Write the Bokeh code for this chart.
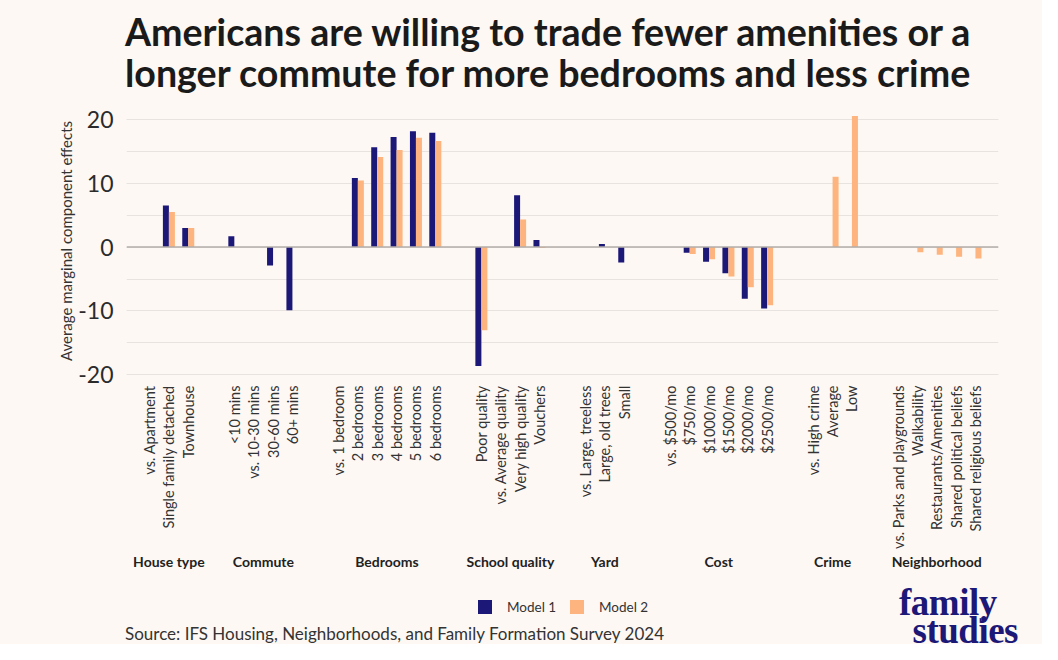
import math
from bokeh.plotting import figure
from bokeh.layouts import column
from bokeh.models import (ColumnDataSource, FactorRange, Range1d, Span, Div, SingleIntervalTicker)
from bokeh.transform import dodge
from bokeh.embed import file_html
from bokeh.resources import INLINE

NAN = float("nan")

groups = ["House type", "Commute", "Bedrooms", "School quality", "Yard", "Cost", "Crime", "Neighborhood"]
levels = [
    ["vs. Apartment", "Single family detached", "Townhouse"],
    ["<10 mins", "vs. 10-30 mins", "30-60 mins", "60+ mins"],
    ["vs. 1 bedroom", "2 bedrooms", "3 bedrooms", "4 bedrooms", "5 bedrooms", "6 bedrooms"],
    ["Poor quality", "vs. Average quality", "Very high quality", "Vouchers"],
    ["vs. Large, treeless", "Large, old trees", "Small"],
    ["vs. $500/mo", "$750/mo", "$1000/mo", "$1500/mo", "$2000/mo", "$2500/mo"],
    ["vs. High crime", "Average", "Low"],
    ["vs. Parks and playgrounds", "Walkability", "Restaurants/Amenities",
     "Shared political beliefs", "Shared religious beliefs"],
]
model1 = [
    [0, 6.5, 3.0],
    [1.7, 0, -2.9, -9.9],
    [0, 10.8, 15.6, 17.2, 18.1, 17.9],
    [-18.6, 0, 8.1, 1.1],
    [0, 0.5, -2.4],
    [0, -0.9, -2.3, -4.1, -8.1, -9.6],
    [NAN, NAN, NAN],
    [NAN, NAN, NAN, NAN, NAN],
]
model2 = [
    [0, 5.5, 3.0],
    [NAN, NAN, NAN, NAN],
    [0, 10.4, 14.1, 15.2, 17.1, 16.6],
    [-13.0, 0, 4.3, -0.15],
    [NAN, NAN, NAN],
    [0, -1.1, -1.9, -4.6, -6.3, -9.1],
    [0, 11.0, 20.5],
    [0, -0.8, -1.2, -1.5, -1.8],
]
y_ticks = [-20, -10, 0, 10, 20]
y_tick_labels = ["-20", "-10", "0", "10", "20"]
series_names = ["Model 1", "Model 2"]

title_lines = ["Americans are willing to trade fewer amenities or a",
               "longer commute for more bedrooms and less crime"]
source_text = "Source: IFS Housing, Neighborhoods, and Family Formation Survey 2024"
logo_lines = ["family", "studies"]

NAVY = "#1c1878"
PEACH = "#fdb47e"
BG = "#fdf8f3"
FONT = "Lato"
W = 1042
TH, MH = 95, 485
FH = 644 - TH - MH

# ---------- title (HTML block) ----------
title_html = (
    f'<div style="position:relative;width:{W}px;height:{TH}px;background:{BG};'
    f'font-family:{FONT},sans-serif;font-weight:700;font-size:37.6px;line-height:41px;color:#1a1a1a;">'
    + "".join(
        f'<div style="position:absolute;left:125px;top:{10.5 + 41 * i}px;white-space:nowrap;">{t}</div>'
        for i, t in enumerate(title_lines))
    + '</div>'
)
title_div = Div(text=title_html, width=W, height=TH, margin=0, styles={"background-color": BG})

# ---------- main chart ----------
factors = [(g, c) for g, cs in zip(groups, levels) for c in cs]
m1 = [v for vs in model1 for v in vs]
m2 = [v for vs in model2 for v in vs]
src = ColumnDataSource(data=dict(x=factors, m1=m1, m2=m2))

x_range = FactorRange(*factors, group_padding=1.38, factor_padding=0.0,
                      range_padding=0.69, range_padding_units="absolute")

p = figure(x_range=x_range, y_range=Range1d(-20.56, 22.46), width=W, height=MH,
           output_backend="svg", toolbar_location=None,
           min_border_left=126, min_border_right=44, min_border_top=8,
           min_border_bottom=MH - 8 - 275,
           background_fill_color=BG, border_fill_color=BG, outline_line_color=None)

r1 = p.vbar(x=dodge("x", -0.155, range=p.x_range), top="m1", width=0.31, source=src,
            fill_color=NAVY, line_color=None)
r2 = p.vbar(x=dodge("x", 0.155, range=p.x_range), top="m2", width=0.31, source=src,
            fill_color=PEACH, line_color=None)

p.add_layout(Span(location=0, dimension="width", line_color="#b3aeaa", line_width=1.4))

p.yaxis.ticker = SingleIntervalTicker(interval=10, num_minor_ticks=2)
p.yaxis.major_label_overrides = dict(zip(y_ticks, y_tick_labels))
p.yaxis.axis_line_color = None
p.yaxis.major_tick_line_color = None
p.yaxis.minor_tick_line_color = None
p.yaxis.major_tick_out = 0
p.yaxis.major_tick_in = 0
p.yaxis.minor_tick_out = 0
p.yaxis.major_label_standoff = 13
p.yaxis.major_label_text_font = FONT
p.yaxis.major_label_text_font_size = "23px"
p.yaxis.major_label_text_color = "#2b2b2b"
p.yaxis.axis_label = "Average marginal component effects"
p.yaxis.axis_label_text_font = FONT
p.yaxis.axis_label_text_font_style = "normal"
p.yaxis.axis_label_text_font_size = "15px"
p.yaxis.axis_label_text_color = "#333333"
p.yaxis.axis_label_standoff = 0

p.ygrid.grid_line_color = "#e8e3de"
p.ygrid.minor_grid_line_color = "#e8e3de"
p.ygrid.grid_line_width = 1.2
p.ygrid.minor_grid_line_width = 1.2
p.xgrid.grid_line_color = None

xa = p.xaxis[0]
xa.axis_line_color = None
xa.major_tick_line_color = None
xa.minor_tick_line_color = None
xa.major_label_orientation = math.pi / 2
xa.major_label_standoff = 1
xa.major_label_text_font = FONT
xa.major_label_text_font_size = "14.5px"
xa.major_label_text_color = "#333333"
xa.group_text_font = FONT
xa.group_text_font_size = "14px"
xa.group_text_font_style = "bold"
xa.group_text_color = "#222222"
xa.group_text_line_height = 2.2
xa.separator_line_color = None

# ---------- footer (legend, source, logo) ----------
top0 = TH + MH


def sq(left, top, color):
    return (f'<div style="position:absolute;left:{left}px;top:{top - top0}px;width:14px;height:14px;'
            f'background:{color};"></div>')


def txt(left, top, text, css):
    return (f'<div style="position:absolute;left:{left}px;top:{top - top0}px;white-space:nowrap;{css}">'
            f'{text}</div>')


leg_css = f"font-family:{FONT},sans-serif;font-size:13.5px;line-height:14px;color:#333333;"
src_css = f"font-family:{FONT},sans-serif;font-size:17px;line-height:20px;color:#333333;"
logo_css = ("font-family:'Liberation Serif',serif;font-weight:700;font-size:37px;line-height:27px;"
            f"color:{NAVY};letter-spacing:-0.5px;")
footer_html = (
    f'<div style="position:relative;width:{W}px;height:{FH}px;background:{BG};">'
    + sq(478, 600, NAVY) + txt(507, 599.7, series_names[0], leg_css)
    + sq(570, 600, PEACH) + txt(599, 599.7, series_names[1], leg_css)
    + txt(125, 623.9, source_text, src_css)
    + txt(899, 589, logo_lines[0], logo_css)
    + txt(912.5, 617, logo_lines[1], logo_css)
    + '</div>'
)
footer_div = Div(text=footer_html, width=W, height=FH, margin=0, styles={"background-color": BG})

layout = column(title_div, p, footer_div, spacing=0, styles={"background-color": BG})
open("out.html", "w").write(file_html(layout, INLINE))
